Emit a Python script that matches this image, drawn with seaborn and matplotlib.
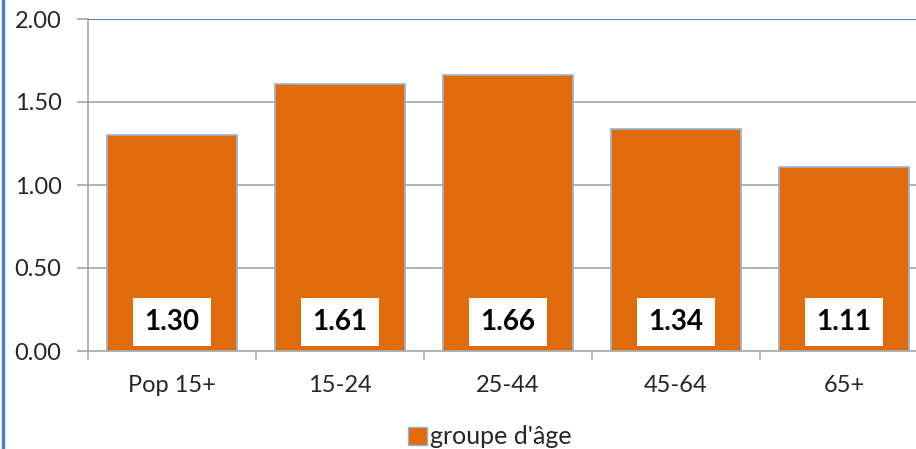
import matplotlib.pyplot as plt
import matplotlib.lines as mlines
import matplotlib.patches as mpatches
import seaborn as sns
import pandas as pd

# données
categories = ["Pop 15+", "15-24", "25-44", "45-64", "65+"]
valeurs = [1.30, 1.61, 1.66, 1.34, 1.11]
serie = "groupe d'âge"

df = pd.DataFrame({"cat": categories, "val": valeurs})

sns.set_style("white")
plt.rcParams["font.family"] = ["Lato", "DejaVu Sans"]

orange = "#E36C0A"
bleu = "#4F81BD"
bord = "#95B3D7"
gris = "#A6A6A6"

fig = plt.figure(figsize=(9.16, 4.49), dpi=100)
W, H = 916, 449
# zone de tracé (coupée à droite comme dans l'original)
ax = fig.add_axes([88 / W, (H - 351) / H, 840 / W, 332 / H])

sns.barplot(data=df, x="cat", y="val", color=orange, width=0.77,
            edgecolor=bord, linewidth=1.2, saturation=1, ax=ax)

ax.set_ylim(0, 2.0)
ax.set_xlim(-0.5, len(categories) - 0.5)
ax.set_yticks([0, 0.5, 1.0, 1.5, 2.0])
ax.set_yticklabels([f"{v:.2f}" for v in [0, 0.5, 1.0, 1.5, 2.0]])
ax.set_xlabel("")
ax.set_ylabel("")

for y in [0.5, 1.0, 1.5]:
    ax.axhline(y, color=gris, lw=1.2, zorder=0)
ax.axhline(2.0, color=bleu, lw=1.5, zorder=0)

for s in ["top", "right"]:
    ax.spines[s].set_visible(False)
ax.spines["left"].set_color(gris)
ax.spines["bottom"].set_color(gris)
ax.spines["left"].set_linewidth(1.2)
ax.spines["bottom"].set_linewidth(1.2)

ax.tick_params(axis="y", length=8, width=1.2, color=gris, pad=11,
               labelsize=17, labelcolor="#262626", left=True)
# graduations x aux frontières des catégories
ax.set_xticks(range(len(categories)))
ax.set_xticklabels(categories)
ax.tick_params(axis="x", length=0, pad=17, labelsize=17, labelcolor="#262626")
for b in range(len(categories) + 1):
    ax.plot([b - 0.5, b - 0.5], [0, -0.05], color=gris, lw=1.2,
            clip_on=False, transform=ax.transData)

# étiquettes de valeur
for i, v in enumerate(valeurs):
    ax.text(i, 0.175, f"{v:.2f}", ha="center", va="center", fontsize=20,
            fontweight="bold", color="black",
            bbox=dict(boxstyle="square,pad=0.4", fc="white", ec="none"))

# légende
h = mpatches.Patch(facecolor=orange, edgecolor=bord, label=serie)
fig.legend(handles=[h], loc="center", bbox_to_anchor=(490 / W, (H - 437) / H),
           frameon=False, fontsize=18, handlelength=0.75, handleheight=0.75,
           handletextpad=0.15, borderpad=0)

# bordure bleue à gauche
fig.add_artist(mlines.Line2D([3 / W, 3 / W], [0, 1], color=bleu, lw=2.5))

fig.savefig("out.png", dpi=100)
